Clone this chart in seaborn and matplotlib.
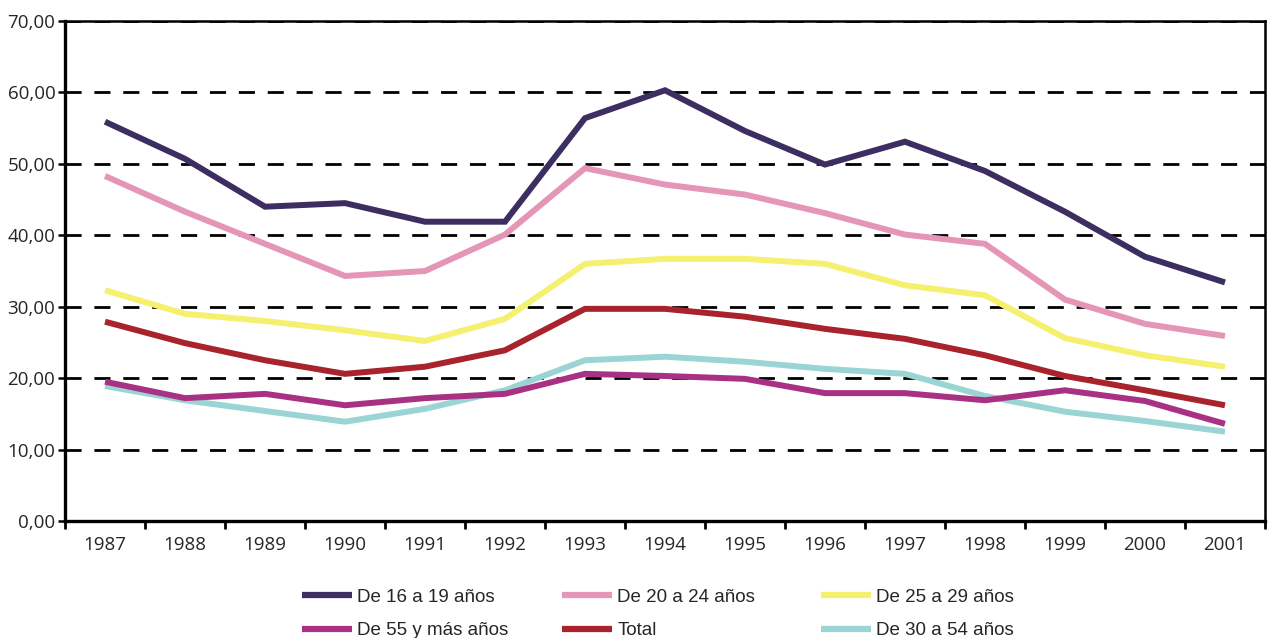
import pandas as pd
import numpy as np
import matplotlib
matplotlib.use("Agg")
import matplotlib.pyplot as plt
from matplotlib.lines import Line2D
from matplotlib.ticker import FixedLocator, FuncFormatter
import seaborn as sns

# datos
anios = [1987, 1988, 1989, 1990, 1991, 1992, 1993, 1994, 1995, 1996, 1997, 1998, 1999, 2000, 2001]
de16a19 = [55.9, 50.7, 44.0, 44.5, 41.9, 41.9, 56.4, 60.3, 54.6, 49.9, 53.1, 49.0, 43.3, 37.0, 33.4]
de20a24 = [48.3, 43.3, 38.8, 34.3, 35.0, 40.1, 49.4, 47.1, 45.7, 43.1, 40.1, 38.8, 31.0, 27.6, 25.9]
de25a29 = [32.3, 29.0, 28.0, 26.7, 25.2, 28.3, 36.0, 36.7, 36.7, 36.0, 33.0, 31.6, 25.6, 23.2, 21.6]
total = [27.9, 24.9, 22.5, 20.6, 21.6, 23.9, 29.7, 29.7, 28.6, 26.9, 25.5, 23.2, 20.3, 18.3, 16.2]
de55ymas = [19.5, 17.2, 17.8, 16.2, 17.2, 17.8, 20.6, 20.3, 19.9, 17.9, 17.9, 16.9, 18.3, 16.8, 13.6]
de30a54 = [18.9, 16.9, 15.4, 13.9, 15.7, 18.3, 22.5, 23.0, 22.3, 21.3, 20.6, 17.5, 15.3, 14.0, 12.5]

series = {
    "De 16 a 19 años": de16a19,
    "De 20 a 24 años": de20a24,
    "De 25 a 29 años": de25a29,
    "De 55 y más años": de55ymas,
    "Total": total,
    "De 30 a 54 años": de30a54,
}
colores = {
    "De 16 a 19 años": "#3d2e62",
    "De 20 a 24 años": "#e595b5",
    "De 25 a 29 años": "#f5f06f",
    "De 55 y más años": "#a93183",
    "Total": "#a8232c",
    "De 30 a 54 años": "#9ad4d4",
}
# orden de dibujo (de abajo hacia arriba)
orden_dibujo = ["De 30 a 54 años", "De 55 y más años", "Total",
                "De 25 a 29 años", "De 20 a 24 años", "De 16 a 19 años"]

filas = []
for nombre in orden_dibujo:
    for i, v in enumerate(series[nombre]):
        filas.append({"pos": i, "valor": v, "serie": nombre})
df = pd.DataFrame(filas)

sns.set_style("white")
plt.rcParams["font.family"] = ["Open Sans", "DejaVu Sans"]

fig = plt.figure(figsize=(12.68, 6.38), dpi=100)
ax = fig.add_axes([0.0513, 0.1834, 0.9463, 0.7837])

sns.lineplot(data=df, x="pos", y="valor", hue="serie", hue_order=orden_dibujo,
             palette=colores, linewidth=4.3, legend=False, ax=ax, zorder=3,
             solid_capstyle="butt", solid_joinstyle="miter")

ax.set_xlim(-0.5, len(anios) - 0.5)
ax.set_ylim(0, 70)
ax.set_xlabel("")
ax.set_ylabel("")

# ticks del eje x en los limites entre categorias, etiquetas en el centro
ax.xaxis.set_major_locator(FixedLocator(np.arange(-0.5, len(anios), 1.0)))
ax.xaxis.set_major_formatter(FuncFormatter(lambda x, p: ""))
ax.xaxis.set_minor_locator(FixedLocator(np.arange(len(anios))))
ax.xaxis.set_minor_formatter(FuncFormatter(lambda x, p: str(anios[int(round(x))])))
ax.tick_params(axis="x", which="major", direction="out", length=6, width=2, color="black", bottom=True)
ax.tick_params(axis="x", which="minor", length=0, labelsize=13.5, pad=11, bottom=True)

ax.set_yticks(np.arange(0, 71, 10))
ax.yaxis.set_major_formatter(FuncFormatter(lambda y, p: f"{y:.2f}".replace(".", ",")))
ax.tick_params(axis="y", direction="out", length=5, width=1.8, color="black", labelsize=13.5, pad=2, left=True)

ax.yaxis.grid(True, color="black", linewidth=2.0, linestyle=(0, (5.8, 4.6)))
ax.xaxis.grid(False)
ax.set_axisbelow(True)

for s in ["left", "bottom"]:
    ax.spines[s].set_linewidth(2.4)
for s in ["top", "right"]:
    ax.spines[s].set_linewidth(1.8)
for s in ax.spines.values():
    s.set_color("black")
    s.set_zorder(4)

# leyenda: tres columnas, cada una como leyenda propia
columnas = [["De 16 a 19 años", "De 55 y más años"],
            ["De 20 a 24 años", "Total"],
            ["De 25 a 29 años", "De 30 a 54 años"]]
inicio_x = [302, 562, 821]
for col, x0 in zip(columnas, inicio_x):
    handles = [Line2D([], [], color=colores[n], linewidth=4.5, solid_capstyle="butt") for n in col]
    fig.legend(handles, col, loc="center left", bbox_to_anchor=(x0 / 1268, 1 - 614 / 638),
               frameon=False, handlelength=2.67, handletextpad=0.27, borderpad=0,
               borderaxespad=0, labelspacing=0.89,
               prop={"family": ["Liberation Sans", "DejaVu Sans"], "size": 13.5})

fig.savefig("out.png", dpi=100)
